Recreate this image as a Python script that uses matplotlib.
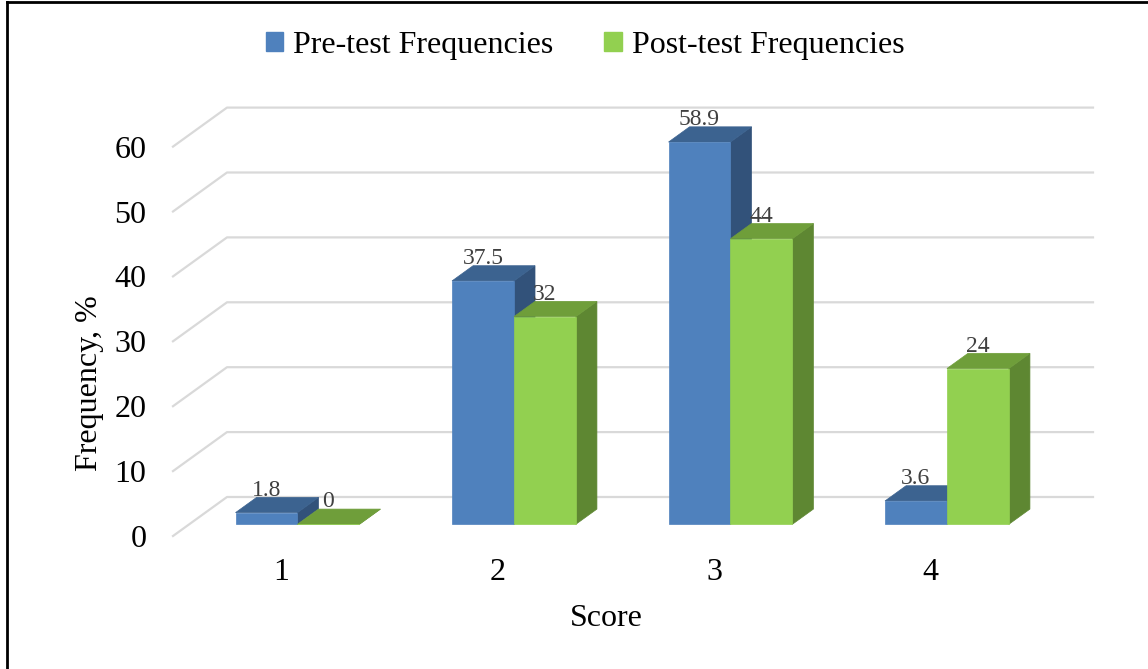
import matplotlib
matplotlib.use("Agg")
import matplotlib.pyplot as plt
from matplotlib.patches import Polygon
from matplotlib.lines import Line2D
import numpy as np

scores = [1, 2, 3, 4]
pre_test = [1.8, 37.5, 58.9, 3.6]
post_test = [0, 32, 44, 24]
series_names = ["Pre-test Frequencies", "Post-test Frequencies"]
y_ticks = [0, 10, 20, 30, 40, 50, 60]

# front / top / side shades for each series
shades = {
    "pre": ("#4F81BD", "#3C6390", "#32527A"),
    "post": ("#92D050", "#6F9E3A", "#5E8732"),
}

plt.rcParams['font.family'] = ['Liberation Serif', 'DejaVu Serif']

fig = plt.figure(figsize=(11.48, 6.69), dpi=100)
ax = fig.add_axes([173 / 1148, 133 / 669, 866 / 1148, 454.3 / 669])
ax.set_xlim(0.5, 4.5)
ax.set_ylim(0, 70)

# floor depth (data units) and bar placement along it
DX, DY = 0.2494, 6.01
t_front, t_back = 0.30, 0.69
bar_w = 0.286

for v in y_ticks:
    ax.plot([0.5, 0.5 + DX, 4.5 + DX], [v, v + DY, v + DY],
            color="#d9d9d9", lw=1.6, zorder=1, clip_on=False)


def bar3d(x0, val, cols, z):
    fx, fy = DX * t_front, DY * t_front
    bx, by = DX * t_back, DY * t_back
    x1 = x0 + bar_w
    front = [(x0 + fx, fy), (x1 + fx, fy), (x1 + fx, val + fy), (x0 + fx, val + fy)]
    top = [(x0 + fx, val + fy), (x1 + fx, val + fy), (x1 + bx, val + by), (x0 + bx, val + by)]
    side = [(x1 + fx, fy), (x1 + bx, by), (x1 + bx, val + by), (x1 + fx, val + fy)]
    for poly, c in ((side, cols[2]), (top, cols[1]), (front, cols[0])):
        ax.add_patch(Polygon(poly, closed=True, facecolor=c, edgecolor=c,
                             lw=0.5, zorder=z, clip_on=False))
    ax.text(x0 + fx + bar_w / 2, val + by - 0.5, f"{val:g}", ha="center", va="bottom",
            fontsize=17, color="#404040", zorder=5)


for i, s in enumerate(scores):
    bar3d(s - bar_w, pre_test[i], shades["pre"], 2)
    bar3d(s, post_test[i], shades["post"], 3)

ax.set_yticks(y_ticks)
ax.set_xticks(scores)
ax.set_xticklabels([str(s) for s in scores])
ax.tick_params(axis="both", length=0, labelsize=23)
ax.tick_params(axis="y", pad=19)
ax.tick_params(axis="x", pad=16)
for sp in ax.spines.values():
    sp.set_visible(False)
ax.patch.set_visible(False)

fig.text(606 / 1148, 1 - 618 / 669, "Score", ha="center", va="center", fontsize=23)
fig.text(90 / 1148, 1 - 383 / 669, "Frequency, %", ha="center", va="center",
         rotation=90, fontsize=23)

handles = [plt.Rectangle((0, 0), 1, 1, color=shades["pre"][0]),
           plt.Rectangle((0, 0), 1, 1, color=shades["post"][0])]
fig.legend(handles, series_names, loc="center", bbox_to_anchor=(585 / 1148, 1 - 45 / 669),
           ncol=2, frameon=False, fontsize=23, handlelength=0.55, handleheight=0.55,
           handletextpad=0.3, columnspacing=1.6)

# partial frame visible along the top and left edges
fig.add_artist(Line2D([7 / 1148, 7 / 1148], [0, 1 - 2 / 669], transform=fig.transFigure,
                      color="black", lw=2))
fig.add_artist(Line2D([7 / 1148, 1], [1 - 2 / 669, 1 - 2 / 669], transform=fig.transFigure,
                      color="black", lw=2))

fig.savefig("out.png", dpi=100)
